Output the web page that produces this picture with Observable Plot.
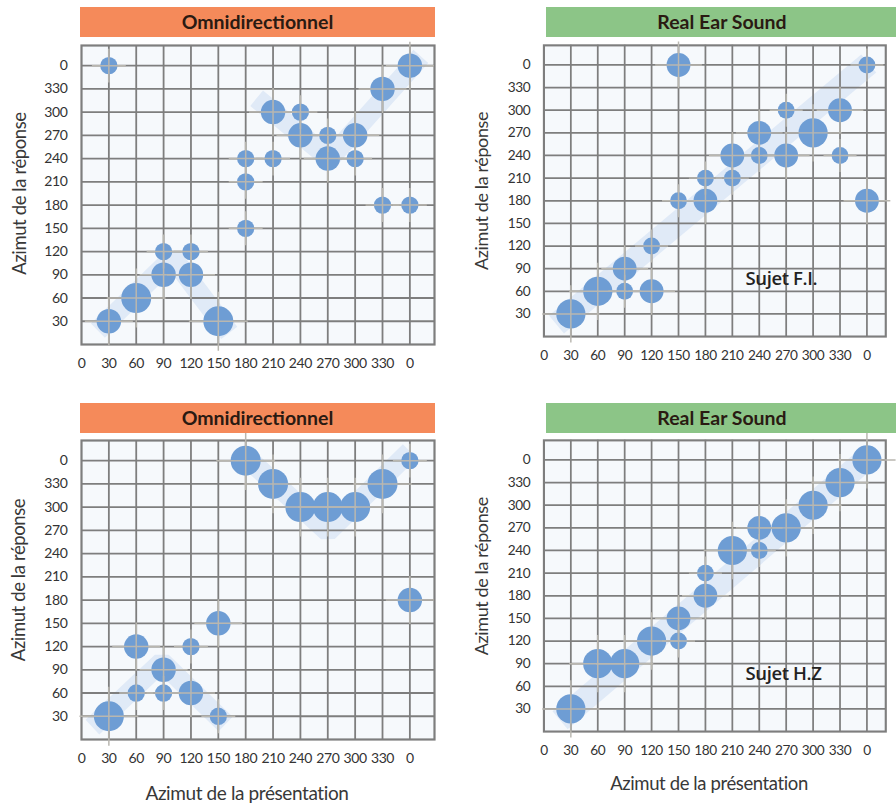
<!DOCTYPE html>
<html><head><meta charset="utf-8">
<script src="https://cdn.jsdelivr.net/npm/d3@7"></script>
<script src="https://cdn.jsdelivr.net/npm/@observablehq/plot@0.6"></script>
<style>
html,body{margin:0;padding:0;background:#fff;width:896px;height:805px;overflow:hidden;}
#root{position:relative;width:896px;height:805px;overflow:hidden;}
.panel{position:absolute;}
.hdr{position:absolute;height:30px;line-height:30px;text-align:center;font-family:Lato,sans-serif;font-weight:700;font-size:19.5px;color:#2a1a12;}
</style></head><body><div id="root"></div>
<script>
// ---- data ----
const panelTitles = ["Omnidirectionnel", "Real Ear Sound", "Omnidirectionnel", "Real Ear Sound"];
const subjectLabels = ["Sujet F.I.", "Sujet H.Z"];
const yLabel = "Azimut de la réponse";
const xLabel = "Azimut de la présentation";
const xTicks = [0, 30, 60, 90, 120, 150, 180, 210, 240, 270, 300, 330, 360];
const yTicks = [30, 60, 90, 120, 150, 180, 210, 240, 270, 300, 330, 360];

// [presentation azimuth, response azimuth, count]
const omniFI = [[30,360,1],[30,30,2],[60,60,3],[90,120,1],[90,90,2],[120,120,1],[120,90,2],[150,30,3],
  [180,240,1],[180,210,1],[180,150,1],[210,300,2],[210,240,1],[240,300,1],[240,270,2],[270,270,1],
  [270,240,2],[300,270,2],[300,240,1],[330,330,2],[330,180,1],[360,360,2],[360,180,1]];
const resFI = [[30,30,3],[60,60,3],[90,90,2],[90,60,1],[120,120,1],[120,60,2],[150,360,2],[150,180,1],
  [180,210,1],[180,180,2],[210,240,2],[210,210,1],[240,270,2],[240,240,1],[270,300,1],[270,240,2],
  [300,270,3],[330,300,2],[330,240,1],[360,360,1],[360,180,2]];
const omniHZ = [[30,30,3],[60,120,2],[60,60,1],[90,90,2],[90,60,1],[120,120,1],[120,60,2],[150,150,2],
  [150,30,1],[180,360,3],[210,330,3],[240,300,3],[270,300,3],[300,300,3],[330,330,3],[360,360,1],[360,180,2]];
const resHZ = [[30,30,3],[60,90,3],[90,90,3],[120,120,3],[150,150,2],[150,120,1],[180,210,1],[180,180,2],
  [210,240,3],[240,270,2],[240,240,1],[270,270,3],[300,300,3],[330,330,3],[360,360,3]];

// shaded guide bands (polylines)
const bandOmniFI = [[[18,18],[100,112],[162,15]], [[192,318],[272,240],[372,372]]];
const bandResFI = [[[14,16],[362,362]]];
const bandOmniHZ = [[[12,16],[88,100],[158,20]], [[180,365],[270,268],[360,372]]];
const bandResHZ = [[[18,15],[360,362]]];

// ---- drawing ----
const fmt = d => d === 360 ? "0" : String(d);
const root = document.getElementById("root");

function panel(cfg) {
  const rows = cfg.data.map(([x, y, n]) => ({x, y, n}));
  const bandRows = cfg.bands.flatMap((seg, i) => seg.map(([x, y]) => ({x, y, seg: i})));
  const marks = [
    Plot.frame({fill: "#f6f9fc"}),
    Plot.line(bandRows, {x: "x", y: "y", z: "seg", stroke: "#e0eaf7", strokeWidth: cfg.bandWidth,
      strokeLinejoin: "miter", strokeLinecap: "butt"}),
    Plot.ruleX(xTicks.slice(1), {stroke: "#7e7e7e", strokeWidth: 1.8}),
    Plot.ruleY(yTicks, {stroke: "#7e7e7e", strokeWidth: 1.8}),
    Plot.frame({stroke: "#7e7e7e", strokeWidth: 2.2}),
    Plot.dot(rows, {x: "x", y: "y", r: "n", fill: "#6e9dd4"}),
    Plot.dot(rows, {x: "x", y: "y", r: d => d.n * 1.6, symbol: "plus", stroke: "#b9b7b0", strokeWidth: 1.5}),
    Plot.text([yLabel], {frameAnchor: "left", dx: cfg.yLabelDx, dy: cfg.yLabelDy, rotate: -90,
      textAnchor: "middle", lineAnchor: "middle",
      fontSize: 18.5, fontWeight: 400, fill: "#383838", fontFamily: "Lato"})
  ];
  if (cfg.subject) marks.push(Plot.text([cfg.subject], {frameAnchor: "bottom-left", dx: 207, dy: -59,
    textAnchor: "start", lineAnchor: "middle", fontSize: 19, fontWeight: 600, fill: "#222", fontFamily: "Open Sans"}));
  if (cfg.bottomLabel) marks.push(Plot.text([xLabel], {frameAnchor: "bottom", dx: cfg.xLabelDx, dy: 54,
    textAnchor: "middle", lineAnchor: "middle", fontSize: 19, fontWeight: 400, fill: "#383838", fontFamily: "Lato"}));

  const svg = Plot.plot({
    width: cfg.width, height: cfg.height,
    marginLeft: cfg.marginLeft, marginRight: cfg.width - cfg.marginLeft - cfg.frameWidth,
    marginTop: 5, marginBottom: cfg.height - 5 - 299,
    x: {domain: [0, cfg.xMax], ticks: xTicks, tickFormat: fmt, tickSize: 0, tickPadding: 14, label: null},
    y: {domain: [0, 386], ticks: yTicks, tickFormat: fmt, tickSize: 0, tickPadding: 14, label: null},
    r: {domain: [0, 3], range: [0, 15]},
    style: {fontFamily: "Lato, sans-serif", fontSize: "14px", letterSpacing: "-0.4px", color: "#333",
      background: "transparent", overflow: "visible"},
    marks
  });
  const div = document.createElement("div");
  div.className = "panel";
  div.style.left = cfg.left + "px";
  div.style.top = cfg.top + "px";
  div.appendChild(svg);
  root.appendChild(div);

  const hdr = document.createElement("div");
  hdr.className = "hdr";
  hdr.textContent = cfg.title;
  hdr.style.left = cfg.hdr[0] + "px";
  hdr.style.top = cfg.hdr[1] + "px";
  hdr.style.width = cfg.hdr[2] + "px";
  hdr.style.background = cfg.color;
  root.appendChild(hdr);
}

panel({title: panelTitles[0], color: "#f58a5a", data: omniFI, bands: bandOmniFI, bandWidth: 20,
  left: 0, top: 40, width: 444, height: 340, marginLeft: 81, frameWidth: 353, xMax: 387,
  yLabelDx: -61, yLabelDy: -1.5, hdr: [80, 7, 355]});
panel({title: panelTitles[1], color: "#8cc587", data: resFI, bands: bandResFI, bandWidth: 24,
  left: 448, top: 40, width: 460, height: 340, marginLeft: 98, frameWidth: 351, xMax: 381,
  yLabelDx: -63, yLabelDy: 0, subject: subjectLabels[0], hdr: [546, 7, 352]});
panel({title: panelTitles[2], color: "#f58a5a", data: omniHZ, bands: bandOmniHZ, bandWidth: 20,
  left: 0, top: 435, width: 444, height: 370, marginLeft: 81, frameWidth: 353, xMax: 387,
  yLabelDx: -62, yLabelDy: -10, bottomLabel: true, xLabelDx: -11, hdr: [80, 403, 355]});
panel({title: panelTitles[3], color: "#8cc587", data: resHZ, bands: bandResHZ, bandWidth: 24,
  left: 448, top: 435, width: 460, height: 370, marginLeft: 98, frameWidth: 351, xMax: 381,
  yLabelDx: -63, yLabelDy: -10, bottomLabel: true, xLabelDx: -6, subject: subjectLabels[1], hdr: [546, 403, 352]});
</script>
</body></html>
